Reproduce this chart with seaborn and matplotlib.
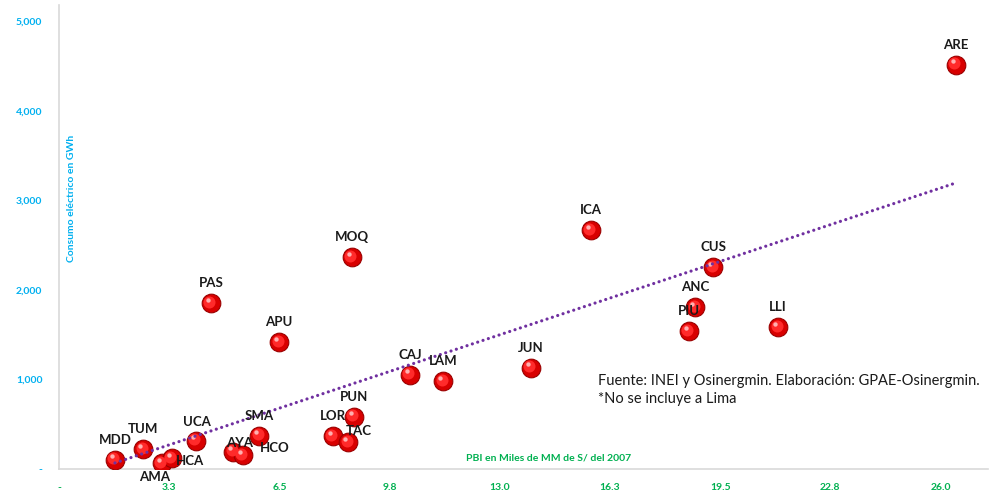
import numpy as np
import pandas as pd
import matplotlib
matplotlib.use("Agg")
import matplotlib.pyplot as plt
import matplotlib.transforms as mtransforms
from matplotlib.ticker import FuncFormatter, FixedLocator
import seaborn as sns

# ---- data ----
regions = ["MDD", "TUM", "AMA", "HCA", "UCA", "AYA", "HCO", "SMA", "LOR", "TAC", "PUN",
           "PAS", "APU", "MOQ", "CAJ", "LAM", "JUN", "ICA", "CUS", "ANC", "PIU", "LLI", "ARE"]
pbi = [1.65, 2.48, 3.03, 3.32, 4.04, 5.14, 5.42, 5.90, 8.07, 8.53, 8.70,
       4.48, 6.49, 8.64, 10.35, 11.33, 13.92, 15.69, 19.29, 18.76, 18.58, 21.21, 26.45]
consumo = [101, 223, 67, 120, 313, 193, 156, 372, 365, 298, 584,
           1855, 1418, 2366, 1054, 980, 1132, 2670, 2257, 1810, 1541, 1586, 4518]
x_ticks = [0, 3.25, 6.5, 9.75, 13.0, 16.25, 19.5, 22.75, 26.0]
y_ticks = [0, 1000, 2000, 3000, 4000, 5000]
x_title = "PBI en Miles de MM de S/ del 2007"
y_title = "Consumo eléctrico en GWh"
note = "Fuente: INEI y Osinergmin. Elaboración: GPAE-Osinergmin.\n*No se incluye a Lima"

# label offsets (pixels) relative to each point
label_offsets = {"AMA": (-7, -14), "HCA": (18, -3), "AYA": (6, 9), "HCO": (32, 7),
                 "TAC": (11, 11), "UCA": (1, 19)}

df = pd.DataFrame({"region": regions, "pbi": pbi, "consumo": consumo})

sns.set_theme(style="white")
plt.rcParams["font.family"] = ["Lato", "DejaVu Sans"]

fig = plt.figure(figsize=(9.93, 4.90), dpi=100)
ax = fig.add_axes([59 / 993, 21 / 490, 929 / 993, 464.4 / 490])

GREEN = "#00B050"
BLUE = "#00B0F0"

# spheres
sns.scatterplot(data=df, x="pbi", y="consumo", ax=ax, s=180, color="#D80000",
                edgecolor="#9A0000", linewidth=0.8, zorder=3, legend=False)
hl1 = mtransforms.offset_copy(ax.transData, fig=fig, x=-1.5, y=1.5, units="dots")
ax.scatter(df["pbi"], df["consumo"], s=75, color="#FF2A2A", linewidths=0,
           transform=hl1, zorder=4)
hl2 = mtransforms.offset_copy(ax.transData, fig=fig, x=-3, y=3.5, units="dots")
ax.scatter(df["pbi"], df["consumo"], s=10, color="#FFB0B0", linewidths=0,
           transform=hl2, zorder=5)

# trendline
sns.regplot(data=df, x="pbi", y="consumo", ax=ax, scatter=False, ci=None, truncate=True,
            line_kws=dict(color="#7030A0", lw=2.3, ls=(0, (0.01, 1.75)),
                          dash_capstyle="round", zorder=6))

# labels
for r, xv, yv in zip(regions, pbi, consumo):
    dx, dy = label_offsets.get(r, (0, 20))
    ax.annotate(r, (xv, yv), xytext=(dx, dy), textcoords="offset pixels",
                ha="center", va="center", fontsize=9.5, fontweight="bold",
                color="#1a1a1a", zorder=7)

ax.set_xlim(0, 27.4)
ax.set_ylim(0, 5190)
ax.xaxis.set_major_locator(FixedLocator(x_ticks))
ax.yaxis.set_major_locator(FixedLocator(y_ticks))
ax.xaxis.set_major_formatter(FuncFormatter(lambda v, p: "-" if v == 0 else f"{v + 1e-9:.1f}"))
ax.yaxis.set_major_formatter(FuncFormatter(lambda v, p: "-" if v == 0 else f"{int(v):,}"))
ax.tick_params(axis="x", colors=GREEN, labelsize=7.5, length=0, pad=10)
ax.tick_params(axis="y", colors=BLUE, labelsize=7.5, length=0, pad=12)
for lab in ax.get_xticklabels():
    lab.set_fontweight("bold")
for lab in ax.get_yticklabels():
    lab.set_fontweight("bold")

for s in ["top", "right"]:
    ax.spines[s].set_visible(False)
for s in ["left", "bottom"]:
    ax.spines[s].set_color("#D9D9D9")
    ax.spines[s].set_linewidth(1.2)

ax.set_xlabel(x_title, color=GREEN, fontsize=7.5, fontweight="bold")
ax.xaxis.set_label_coords((549 - 59) / 929, 11 / 464.4)
ax.xaxis.label.set_va("center")
ax.set_ylabel(y_title, color=BLUE, fontsize=7.5, fontweight="bold")
ax.yaxis.set_label_coords((72 - 59) / 929, (469 - 198) / 464.4)
ax.yaxis.label.set_va("center")

fig.text(598 / 993, 1 - 390 / 490, note, fontsize=10.5, color="#1a1a1a",
         ha="left", va="center", linespacing=1.35)

fig.savefig("out.png", dpi=100, facecolor="white")
